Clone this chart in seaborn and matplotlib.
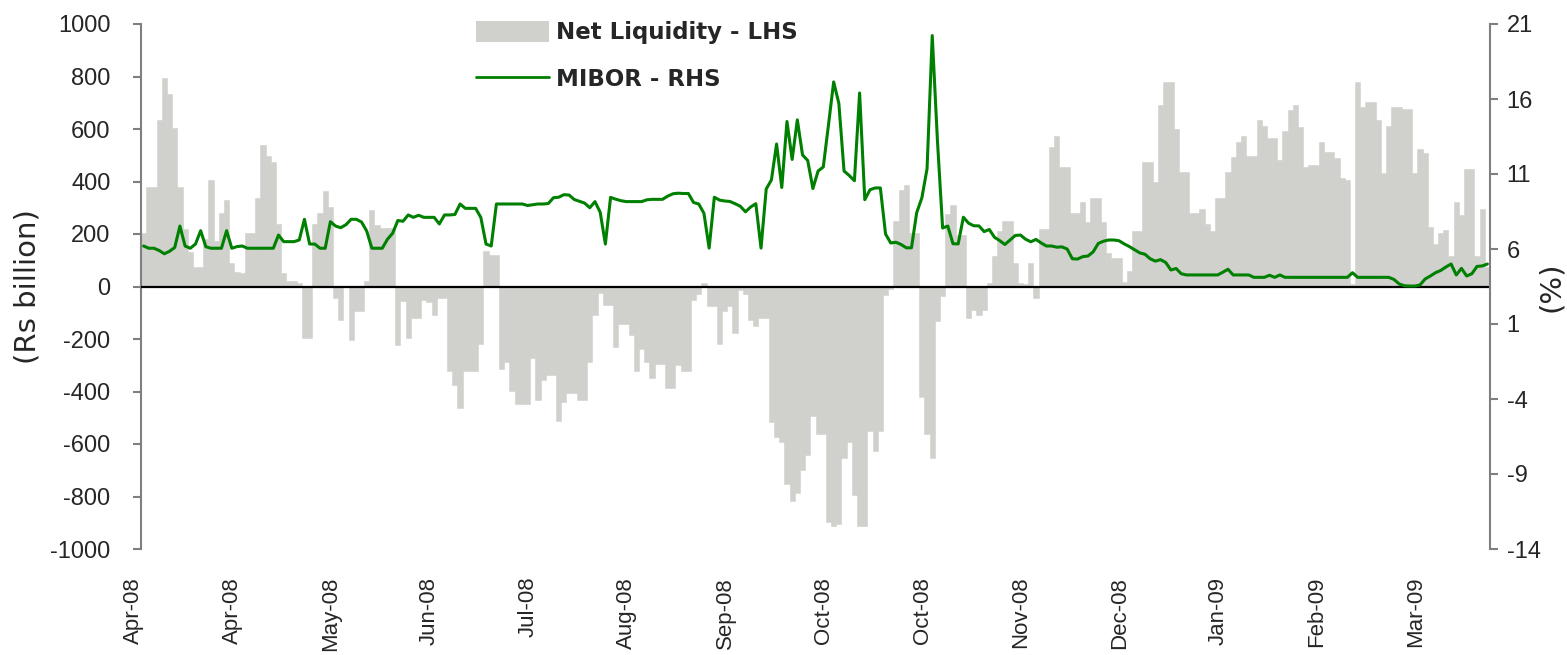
import numpy as np
import pandas as pd
import matplotlib
matplotlib.use("Agg")
import matplotlib.pyplot as plt
import matplotlib.transforms as mtransforms
from matplotlib.patches import Patch
from matplotlib.lines import Line2D
import seaborn as sns

# daily net liquidity (Rs billion), Apr-08 .. Mar-09
net_liquidity = [
    204, 378, 378, 634, 795, 733, 605, 378, 218, 133,
    74, 74, 182, 405, 175, 279, 330, 91, 57, 50,
    204, 204, 337, 538, 496, 474, 237, 50, 22, 22,
    14, -197, -197, 237, 279, 363, 301, -45, -129, -3,
    -205, -95, -95, 22, 290, 235, 222, 222, 222, -221,
    -55, -195, -121, -121, -51, -60, -108, -44, -44, -321,
    -377, -461, -321, -321, -321, -220, 136, 121, 121, -314,
    -288, -398, -448, -448, -448, -271, -432, -356, -337, -337,
    -514, -441, -406, -406, -432, -432, -288, -108, -25, -72,
    -72, -232, -143, -143, -184, -321, -237, -286, -347, -296,
    -296, -387, -387, -300, -321, -321, -52, -29, 14, -75,
    -75, -219, -94, -75, -177, -13, -29, -128, -151, -121,
    -121, -517, -575, -593, -753, -819, -787, -698, -642, -492,
    -560, -560, -897, -911, -905, -652, -593, -796, -911, -911,
    -551, -625, -551, -31, -9, 249, 368, 387, 202, 202,
    -422, -560, -652, -131, -35, 275, 312, 197, 197, -121,
    -88, -108, -88, 15, 118, 210, 250, 250, 91, 15,
    9, 91, -42, 218, 218, 530, 573, 455, 455, 279,
    279, 321, 245, 337, 337, 245, 127, 108, 108, 17,
    60, 210, 210, 474, 474, 398, 690, 778, 778, 599,
    438, 438, 279, 279, 295, 237, 210, 337, 337, 438,
    495, 550, 573, 497, 497, 634, 613, 565, 565, 483,
    593, 674, 692, 606, 455, 464, 464, 550, 514, 514,
    489, 413, 405, 9, 778, 683, 702, 702, 634, 432,
    613, 682, 682, 676, 676, 432, 523, 508, 225, 161,
    203, 216, 118, 321, 273, 447, 447, 118, 295, 76,
]

# MIBOR (%)
mibor = [
    6.20, 6.05, 6.05, 5.90, 5.68, 5.85, 6.10, 7.53, 6.20, 6.05,
    6.33, 7.22, 6.15, 6.05, 6.05, 6.05, 7.22, 6.05, 6.16, 6.20,
    6.05, 6.05, 6.05, 6.05, 6.05, 6.05, 6.93, 6.49, 6.49, 6.49,
    6.60, 7.98, 6.33, 6.33, 6.05, 6.05, 7.82, 7.53, 7.42, 7.62,
    7.98, 7.98, 7.80, 7.20, 6.05, 6.05, 6.05, 6.65, 7.05, 7.90,
    7.85, 8.27, 8.11, 8.25, 8.11, 8.11, 8.11, 7.67, 8.27, 8.27,
    8.30, 9.00, 8.71, 8.71, 8.71, 8.10, 6.33, 6.20, 9.00, 9.00,
    9.00, 9.00, 9.00, 9.00, 8.90, 8.95, 9.00, 9.00, 9.03, 9.42,
    9.45, 9.62, 9.60, 9.30, 9.18, 9.06, 8.75, 9.16, 8.45, 6.33,
    9.44, 9.32, 9.22, 9.16, 9.16, 9.16, 9.16, 9.28, 9.31, 9.31,
    9.31, 9.52, 9.68, 9.72, 9.70, 9.70, 9.10, 9.00, 8.38, 6.06,
    9.45, 9.26, 9.20, 9.17, 9.02, 8.85, 8.48, 8.80, 9.02, 6.06,
    10.00, 10.60, 13.00, 10.10, 14.50, 11.97, 14.61, 12.27, 11.90, 10.03,
    11.20, 11.47, 14.27, 17.14, 15.71, 11.20, 10.90, 10.55, 16.40, 9.29,
    9.95, 10.07, 10.07, 7.00, 6.40, 6.45, 6.30, 6.08, 6.08, 8.42,
    9.41, 11.35, 20.23, 13.24, 7.40, 7.53, 6.35, 6.34, 8.12, 7.72,
    7.55, 7.54, 7.16, 7.30, 6.78, 6.56, 6.30, 6.60, 6.90, 6.93,
    6.65, 6.48, 6.64, 6.40, 6.20, 6.20, 6.12, 6.14, 6.00, 5.35,
    5.33, 5.49, 5.53, 5.80, 6.37, 6.52, 6.60, 6.60, 6.55, 6.34,
    6.16, 5.95, 5.74, 5.65, 5.35, 5.19, 5.29, 5.10, 4.60, 4.70,
    4.35, 4.27, 4.27, 4.27, 4.27, 4.27, 4.27, 4.27, 4.45, 4.65,
    4.27, 4.27, 4.27, 4.27, 4.11, 4.11, 4.11, 4.25, 4.11, 4.27,
    4.11, 4.11, 4.11, 4.11, 4.11, 4.11, 4.11, 4.11, 4.11, 4.11,
    4.11, 4.11, 4.11, 4.42, 4.11, 4.11, 4.11, 4.11, 4.11, 4.11,
    4.11, 3.97, 3.67, 3.55, 3.53, 3.53, 3.60, 4.00, 4.20, 4.42,
    4.57, 4.80, 5.00, 4.27, 4.71, 4.20, 4.35, 4.84, 4.87, 5.00,
]

tick_labels = ["Apr-08", "Apr-08", "May-08", "Jun-08", "Jul-08", "Aug-08", "Sep-08",
               "Oct-08", "Oct-08", "Nov-08", "Dec-08", "Jan-09", "Feb-09", "Mar-09"]
TICK_EVERY = 19

BAR_COLOR = "#d0d0cc"
LINE_COLOR = "#008000"
AXIS_COLOR = "#7f7f7f"

sns.set_style("white")
plt.rcParams["font.family"] = ["Liberation Sans", "DejaVu Sans"]
plt.rcParams["axes.unicode_minus"] = False

df = pd.DataFrame({
    "day": np.arange(len(net_liquidity)),
    "net_liquidity": net_liquidity,
    "mibor": mibor,
})

W, H = 1567, 655
fig = plt.figure(figsize=(W / 100, H / 100), dpi=100)
ax = fig.add_axes([141 / W, 1 - 549 / H, (1490 - 141) / W, (549 - 24) / H])

sns.barplot(data=df, x="day", y="net_liquidity", color=BAR_COLOR, saturation=1,
            width=1.0, linewidth=0.4, edgecolor=BAR_COLOR, errorbar=None, ax=ax)
ax.axhline(0, color="black", lw=1.6, zorder=3)

ax2 = ax.twinx()
sns.lineplot(data=df, x="day", y="mibor", color=LINE_COLOR, lw=2.2, ax=ax2)

ax.set_xlim(-0.5, len(net_liquidity) - 0.5)
ax.set_ylim(-1000, 1000)
ax2.set_ylim(-14, 21)

# left axis
ax.set_yticks(range(-1000, 1001, 200))
ax.tick_params(axis="y", direction="out", length=6, width=1.5, color=AXIS_COLOR,
               labelsize=17, pad=16, left=True)
ax.set_ylabel("(Rs billion)", fontsize=21, family="DejaVu Sans")
ax.yaxis.set_label_coords(-0.074, 0.5)

# right axis
ax2.set_yticks(range(-14, 22, 5))
ax2.tick_params(axis="y", direction="out", length=6, width=1.5, color=AXIS_COLOR,
                labelsize=17, pad=6, right=True)
ax2.set_ylabel("(%)", fontsize=21, family="DejaVu Sans")
ax2.yaxis.set_label_coords(1.035, 0.5)

# x axis
tick_pos = np.arange(len(tick_labels)) * TICK_EVERY
ax.set_xticks(tick_pos)
ax.set_xticklabels(tick_labels, rotation=90, fontsize=16)
ax.tick_params(axis="x", length=0, pad=20)
ax.set_xlabel("")
shift = mtransforms.ScaledTranslation(-10 / 100, 0, fig.dpi_scale_trans)
for lbl in ax.get_xticklabels():
    lbl.set_transform(lbl.get_transform() + shift)

for a in (ax, ax2):
    for s in a.spines.values():
        s.set_visible(False)
ax.spines["left"].set_visible(True)
ax.spines["left"].set_color(AXIS_COLOR)
ax.spines["left"].set_linewidth(1.5)
ax2.spines["right"].set_visible(True)
ax2.spines["right"].set_color(AXIS_COLOR)
ax2.spines["right"].set_linewidth(1.5)

handles = [Patch(facecolor=BAR_COLOR, edgecolor="none"),
           Line2D([0], [0], color=LINE_COLOR, lw=2)]
fig.legend(handles, ["Net Liquidity - LHS", "MIBOR - RHS"],
           loc="upper left", bbox_to_anchor=(476 / W, 1 - 21 / H), frameon=False,
           handlelength=3.2, handleheight=1.05, handletextpad=0.3,
           labelspacing=1.0, borderpad=0, borderaxespad=0,
           prop=dict(family="DejaVu Sans", weight="bold", size=16.5))

fig.savefig("out.png", dpi=100)
